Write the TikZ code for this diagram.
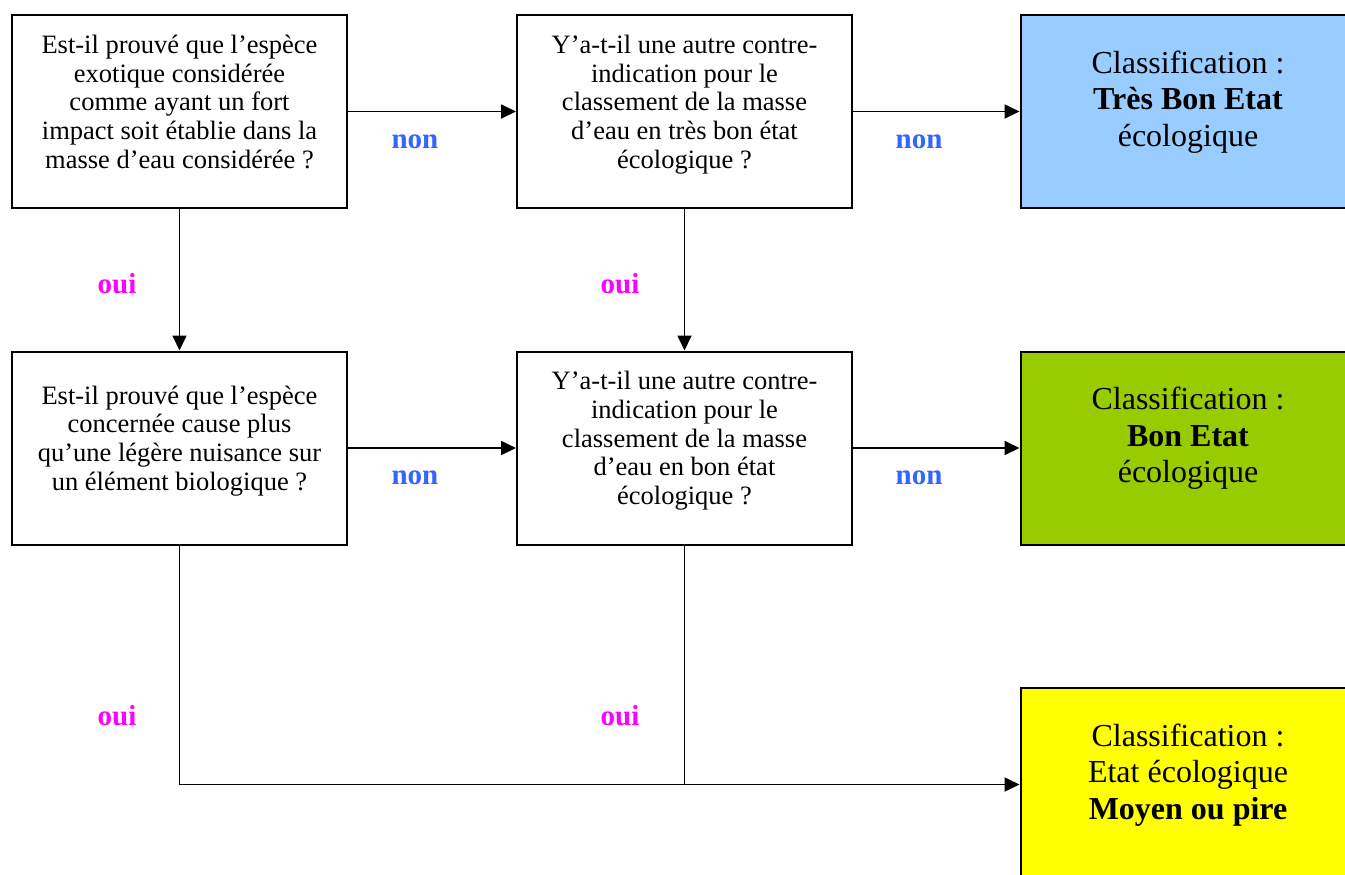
\documentclass[tikz,border=0pt]{standalone}
\usepackage{fontspec}
\setmainfont{Liberation Serif}
\usetikzlibrary{arrows.meta, positioning}
\definecolor{bleuciel}{HTML}{99CCFF}
\definecolor{vertbon}{HTML}{99CC00}
\definecolor{jaune}{HTML}{FFFF00}
\definecolor{bleunon}{HTML}{3366FF}
\definecolor{rosoui}{HTML}{FF00FF}
\tikzset{
  question/.style={draw, line width=1pt, minimum width=167.5pt, minimum height=96.5pt, inner sep=0pt,
              align=center, font=\fontsize{13.25}{14.35}\selectfont, text depth=10pt},
  classe/.style={question, font=\fontsize{16}{18.25}\selectfont, text depth=13pt},
  fleche/.style={-{Triangle[length=7.5pt, width=7pt]}, line width=0.9pt},
  trait/.style={line width=0.9pt},
  non/.style={text=bleunon, font=\fontsize{14.5}{16}\selectfont\bfseries},
  oui/.style={text=rosoui, font=\fontsize{14.5}{16}\selectfont\bfseries},
}
\begin{document}
\begin{tikzpicture}[x=0.5pt, y=-0.5pt]
  \useasboundingbox (0,0) rectangle (1345,874);
  % questions
  \node[question] (q1) at (179.5,111.5) {Est-il prouvé que l’espèce\\exotique considérée\\comme ayant un fort\\impact soit établie dans la\\masse d’eau considérée ?};
  \node[question] (q2) at (684.5,111.5) {Y’a-t-il une autre contre-\\indication pour le\\classement de la masse\\d’eau en très bon état\\écologique ?};
  \node[question] (q3) at (179.5,448) {Est-il prouvé que l’espèce\\concernée cause plus\\qu’une légère nuisance sur\\un élément biologique ?};
  \node[question] (q4) at (684.5,448) {Y’a-t-il une autre contre-\\indication pour le\\classement de la masse\\d’eau en bon état\\écologique ?};
  % classements
  \node[classe, fill=bleuciel] (tbe) at (1188,111.5) {Classification :\\\textbf{Très Bon Etat}\\écologique};
  \node[classe, fill=vertbon] (be) at (1188,448) {Classification :\\\textbf{Bon Etat}\\écologique};
  \node[classe, fill=jaune] (mp) at (1188,784.5) {Classification :\\Etat écologique\\\textbf{Moyen ou pire}};
  % fleches
  \draw[fleche] (q1) -- (q2);
  \draw[fleche] (q2) -- (tbe);
  \draw[fleche] (q3) -- (q4);
  \draw[fleche] (q4) -- (be);
  \draw[fleche] (q1) -- (q3);
  \draw[fleche] (q2) -- (q4);
  \draw[fleche] (q3.south) |- (mp.west);
  \draw[trait] (q4.south) -- (q4.south |- mp.west);
  % reponses
  \foreach \x/\y in {415/142, 919/142, 415/478, 919/478} \node[non] (n-\x-\y) at (\x,\y) {non};
  \foreach \x/\y in {117/284, 620/284, 117/716, 620/716} \node[oui] (o-\x-\y) at (\x,\y) {oui};
\end{tikzpicture}
\end{document}
